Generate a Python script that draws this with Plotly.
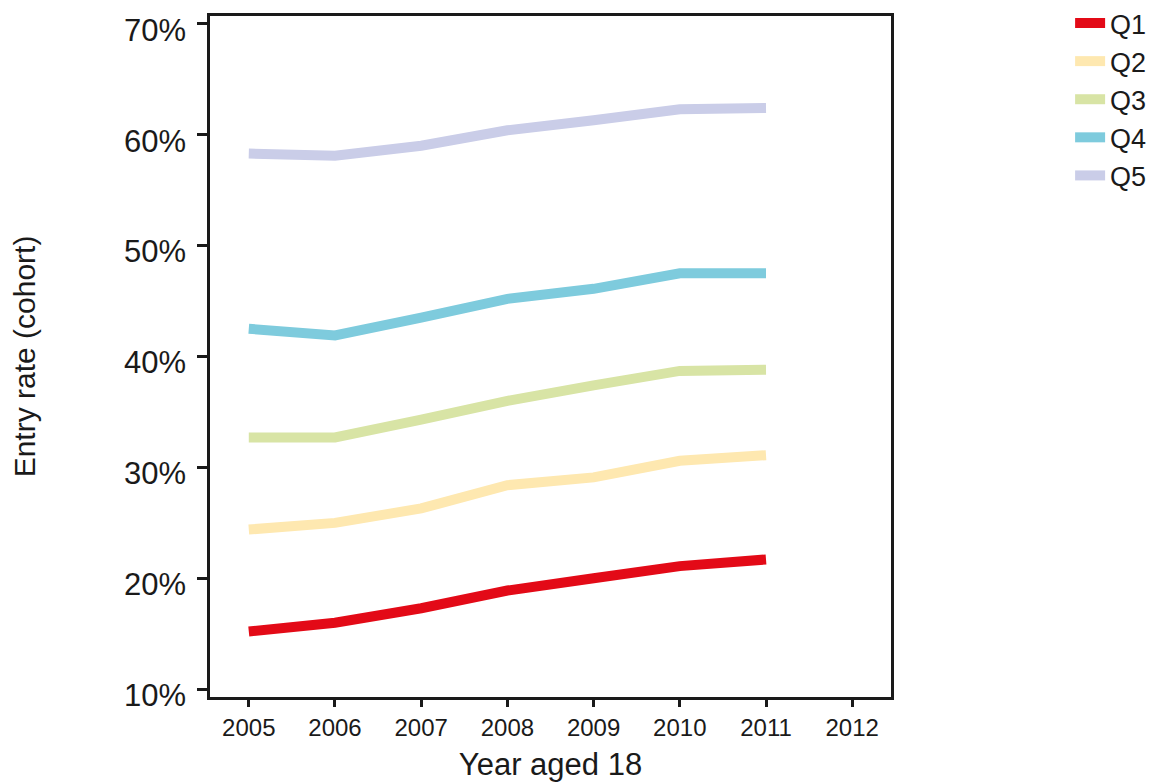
import plotly.graph_objects as go

years = [2005, 2006, 2007, 2008, 2009, 2010, 2011]
q1 = [15.2, 16.0, 17.3, 18.9, 20.0, 21.1, 21.7]
q2 = [24.4, 25.0, 26.3, 28.4, 29.1, 30.6, 31.1]
q3 = [32.7, 32.7, 34.3, 36.0, 37.4, 38.7, 38.8]
q4 = [42.5, 41.9, 43.5, 45.2, 46.1, 47.5, 47.5]
q5 = [58.3, 58.1, 59.0, 60.4, 61.3, 62.3, 62.4]

series_names = ["Q1", "Q2", "Q3", "Q4", "Q5"]
series_values = [q1, q2, q3, q4, q5]
colors = ["#E30A17", "#FEE8B0", "#D8E4A5", "#7ECBDD", "#CACDE8"]

x_ticks = [2005, 2006, 2007, 2008, 2009, 2010, 2011, 2012]
y_ticks = [10, 20, 30, 40, 50, 60, 70]
y_ticktext = [f"{v}%" for v in y_ticks]

FONT = "Liberation Sans, Arial, Helvetica, sans-serif"
INK = "#1a1a1a"

fig = go.Figure()
for name, vals, col in zip(series_names, series_values, colors):
    fig.add_trace(go.Scatter(x=years, y=vals, mode="lines", name=name,
                             line=dict(color=col, width=10)))

fig.update_layout(
    width=1148, height=774,
    margin=dict(l=202, r=265, t=8, b=85, autoexpand=False),
    paper_bgcolor="white", plot_bgcolor="white",
    font=dict(family=FONT, color=INK),
    showlegend=True,
    legend=dict(x=1.263, xanchor="left", y=1.025, yanchor="top",
                font=dict(size=27, family=FONT, color=INK),
                bgcolor="rgba(0,0,0,0)", tracegroupgap=0),
)
fig.update_xaxes(
    range=[2004.55, 2012.45], tickvals=x_ticks, ticktext=[str(t) for t in x_ticks],
    automargin=False,
    showgrid=False, zeroline=False, showline=True, linecolor=INK, linewidth=2.5,
    mirror=True, ticks="outside", ticklen=7, tickwidth=2.5, tickcolor=INK,
    tickfont=dict(size=24, family=FONT, color=INK),
    title=dict(text="Year aged 18", font=dict(size=31, family=FONT, color=INK), standoff=16),
)
fig.update_yaxes(
    range=[9.3, 70.7], tickvals=y_ticks, ticktext=y_ticktext,
    automargin=False, ticklabelstandoff=5, ticklabelshift=6, ticklabeloverflow="allow",
    showgrid=False, zeroline=False, showline=True, linecolor=INK, linewidth=2.5,
    mirror=True, ticks="outside", ticklen=10, tickwidth=2.5, tickcolor=INK,
    tickfont=dict(size=31, family=FONT, color=INK),
    title=dict(text="Entry rate (cohort)", font=dict(size=30, family=FONT, color=INK), standoff=80),
)

fig.write_html("out.html")
